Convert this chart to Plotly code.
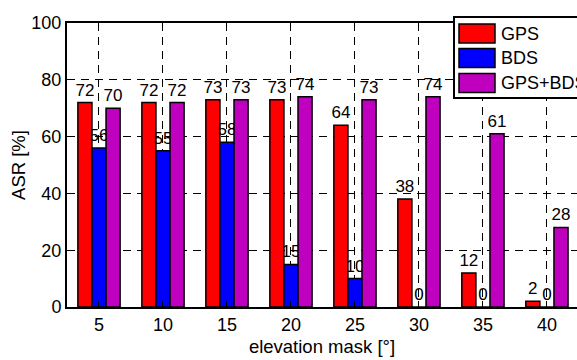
import plotly.graph_objects as go

# Elevation mask angles (degrees) and ambiguity success rates (%)
elevation_mask = [5, 10, 15, 20, 25, 30, 35, 40]
series_names = ["GPS", "BDS", "GPS+BDS"]
asr_gps = [72, 72, 73, 73, 64, 38, 12, 2]
asr_bds = [56, 55, 58, 15, 10, 0, 0, 0]
asr_gps_bds = [70, 72, 73, 74, 73, 74, 61, 28]
series_colors = ["#FF0000", "#0000FF", "#BF00BF"]
y_ticks = [0, 20, 40, 60, 80, 100]

W, H = 577, 360
M_L, M_R, M_T, M_B = 67, 0, 23, 53
FONT = "Liberation Sans"

fig = go.Figure()
for name, vals, col in zip(series_names, [asr_gps, asr_bds, asr_gps_bds], series_colors):
    fig.add_trace(go.Bar(
        x=elevation_mask, y=vals, name=name,
        marker=dict(color=col, line=dict(color="black", width=1.5)),
        text=[str(v) for v in vals], textposition="outside",
        textfont=dict(family=FONT, size=17, color="black"),
        constraintext="none", cliponaxis=False, showlegend=False,
    ))

# pixel -> paper helpers for the legend box
pw = W - M_L - M_R
ph = H - M_T - M_B
def px(x):
    return (x - M_L) / pw
def py(y):
    return (H - M_B - y) / ph

shapes = [dict(type="rect", xref="paper", yref="paper",
               x0=px(454), x1=px(600), y0=py(98), y1=py(17),
               line=dict(color="black", width=2), fillcolor="white", layer="above")]
annotations = []
row_centers = [33.5, 58, 83]
for name, col, yc in zip(series_names, series_colors, row_centers):
    shapes.append(dict(type="rect", xref="paper", yref="paper",
                       x0=px(459), x1=px(495), y0=py(yc + 9.5), y1=py(yc - 9.5),
                       line=dict(color="black", width=1.5), fillcolor=col, layer="above"))
    annotations.append(dict(xref="paper", yref="paper", x=px(499), y=py(yc),
                            xanchor="left", yanchor="middle", text=name, showarrow=False,
                            font=dict(family=FONT, size=18, color="black")))

fig.update_layout(
    width=W, height=H,
    margin=dict(l=M_L, r=M_R, t=M_T, b=M_B, pad=0),
    paper_bgcolor="white", plot_bgcolor="white",
    barmode="group", bargap=0.34, bargroupgap=0.0,
    font=dict(family=FONT, size=18, color="black"),
    shapes=shapes, annotations=annotations,
    xaxis=dict(
        range=[2.5, 42.35], tickmode="array", tickvals=elevation_mask,
        ticktext=[str(v) for v in elevation_mask],
        showline=True, linecolor="black", linewidth=2, mirror=True,
        ticks="inside", ticklen=6, tickcolor="black",
        showgrid=True, gridcolor="black", gridwidth=1, griddash="8px,6px",
        zeroline=False,
        tickfont=dict(family=FONT, size=18),
        title=dict(text="elevation mask [°]", font=dict(family=FONT, size=18.5), standoff=6),
    ),
    yaxis=dict(
        range=[0, 100], tickmode="array", tickvals=y_ticks,
        showline=True, linecolor="black", linewidth=2,
        ticks="inside", ticklen=6, tickcolor="black",
        showgrid=True, gridcolor="black", gridwidth=1, griddash="8px,6px",
        zeroline=False,
        tickfont=dict(family=FONT, size=18),
        title=dict(text="ASR [%]", font=dict(family=FONT, size=18.5), standoff=1),
    ),
)

fig.write_html("out.html")
